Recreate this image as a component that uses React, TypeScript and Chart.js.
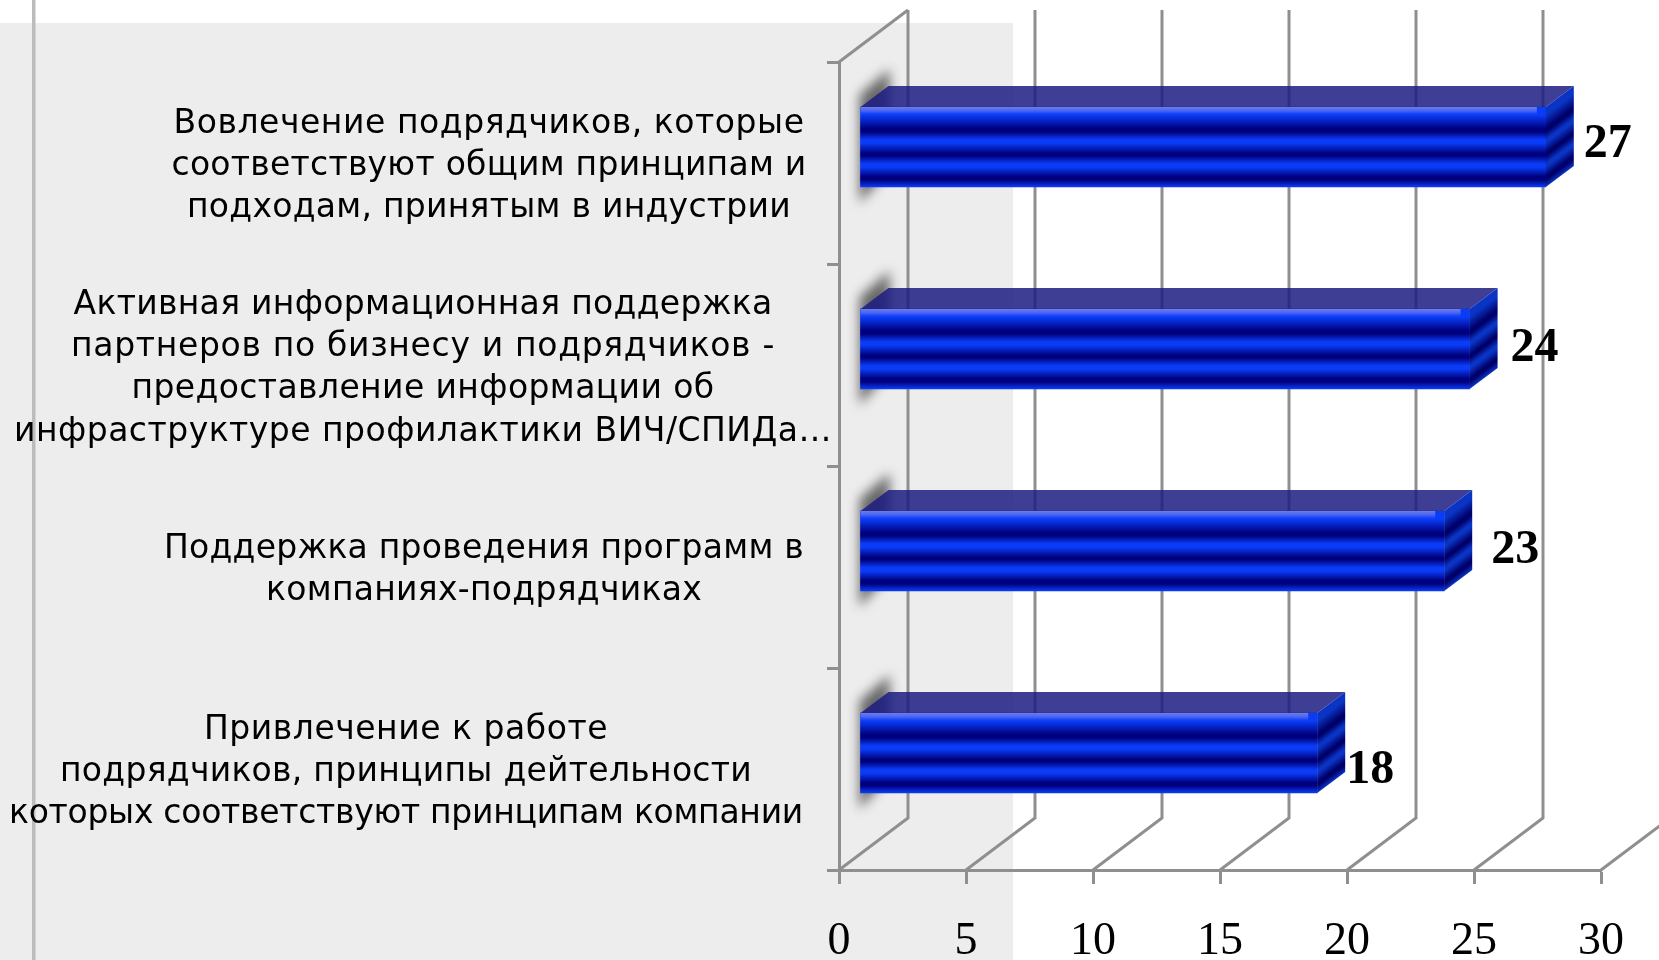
import React, { useEffect, useRef } from "react";
import { Chart, registerables } from "chart.js";

Chart.register(...registerables);

const categories: string[][] = [
  ["Вовлечение подрядчиков, которые", "соответствуют общим принципам и", "подходам, принятым в индустрии"],
  ["Активная информационная поддержка", "партнеров по бизнесу и подрядчиков -", "предоставление информации об", "инфраструктуре профилактики ВИЧ/СПИДа…"],
  ["Поддержка проведения программ в", "компаниях-подрядчиках"],
  ["Привлечение к работе", "подрядчиков, принципы дейтельности", "которых соответствуют принципам компании"],
];
const values = [27, 24, 23, 18];
const xTicks = [0, 5, 10, 15, 20, 25, 30];

const labelCenters = [489, 423, 484, 406];
const lineWidths = [
  [631, 635, 604],
  [699, 704, 583, 818],
  [640, 436],
  [404, 692, 794],
];
const valueLabelDx = [38, 41, 47, 29];
const valueLabelDy = [-2, 0, 0, 18];

const WALL_DX = 69, WALL_DY = -52;
const BAR_DX = 21, BAR_DY = -16;
const TOP_DX = 28, TOP_DY = -21;
const BAR_H = 80;
const GRID = "#8f8f8f";

const stripes = (ctx: CanvasRenderingContext2D, top: number, h: number, bright: string, dark: string) => {
  const g = ctx.createLinearGradient(0, top, 0, top + h);
  const stops: [number, string][] = [
    [0, bright], [0.1, bright], [0.27, dark], [0.31, dark], [0.41, bright], [0.45, bright],
    [0.58, dark], [0.61, dark], [0.71, bright], [0.75, bright], [0.87, dark], [0.91, dark], [1, bright],
  ];
  stops.forEach(([p, c]) => g.addColorStop(p, c));
  return g;
};

const scene = {
  id: "scene",
  beforeDraw(chart: any) {
    const ctx: CanvasRenderingContext2D = chart.ctx;
    ctx.save();
    ctx.fillStyle = "#ffffff";
    ctx.fillRect(0, 0, chart.width, chart.height);
    ctx.fillStyle = "#ededed";
    ctx.fillRect(0, 23, 1013, chart.height - 23);
    ctx.fillStyle = "#bcbcbc";
    ctx.fillRect(32, 0, 3.5, chart.height);
    ctx.restore();
  },
  beforeDatasetsDraw(chart: any) {
    const ctx: CanvasRenderingContext2D = chart.ctx;
    const { x: xs } = chart.scales;
    const { top, bottom, left } = chart.chartArea;
    ctx.save();
    ctx.strokeStyle = GRID;
    ctx.lineWidth = 3;
    xTicks.forEach((t) => {
      const px = xs.getPixelForValue(t);
      ctx.beginPath();
      ctx.moveTo(px, bottom);
      ctx.lineTo(px + WALL_DX, bottom + WALL_DY);
      ctx.lineTo(px + WALL_DX, top + WALL_DY);
      ctx.stroke();
    });
    ctx.beginPath();
    ctx.moveTo(left, top);
    ctx.lineTo(left + WALL_DX, top + WALL_DY);
    ctx.stroke();

    const meta = chart.getDatasetMeta(0);
    meta.data.forEach((bar: any) => {
      const t = bar.y - bar.height / 2 + BAR_DY;
      const b = t + bar.height;
      const x0 = bar.base + BAR_DX;
      ctx.save();
      (ctx as any).filter = "blur(6px)";
      ctx.fillStyle = "#666666";
      ctx.beginPath();
      ctx.moveTo(x0 - 1, t - 12);
      ctx.lineTo(x0 + 29, t - 38);
      ctx.lineTo(x0 + 29, b - 18);
      ctx.lineTo(x0 - 1, b + 16);
      ctx.closePath();
      ctx.fill();
      ctx.restore();
    });
    ctx.restore();
    ctx.save();
    ctx.translate(BAR_DX, BAR_DY);
  },
  afterDatasetsDraw(chart: any) {
    const ctx: CanvasRenderingContext2D = chart.ctx;
    ctx.restore();
    const meta = chart.getDatasetMeta(0);
    ctx.save();
    meta.data.forEach((bar: any, i: number) => {
      const t = bar.y - bar.height / 2 + BAR_DY;
      const h = bar.height;
      const x0 = bar.base + BAR_DX;
      const x1 = bar.x + BAR_DX;

      ctx.fillStyle = "rgba(28,28,130,0.85)";
      ctx.beginPath();
      ctx.moveTo(x0, t);
      ctx.lineTo(x0 + TOP_DX, t + TOP_DY);
      ctx.lineTo(x1 + TOP_DX, t + TOP_DY);
      ctx.lineTo(x1, t);
      ctx.closePath();
      ctx.fill();

      const hi = ctx.createLinearGradient(0, t, 0, t + 8);
      hi.addColorStop(0, "rgba(110,125,235,1)");
      hi.addColorStop(0.5, "rgba(90,110,240,0.8)");
      hi.addColorStop(1, "rgba(60,90,250,0)");
      ctx.fillStyle = hi;
      ctx.fillRect(x0, t, x1 - x0 - 9, 8);

      ctx.save();
      ctx.transform(1, TOP_DY / TOP_DX, 0, 1, x1, t);
      ctx.fillStyle = stripes(ctx, 0, h, "#0a34c4", "#00006a");
      ctx.fillRect(0, 0, TOP_DX, h);
      ctx.restore();

      ctx.fillStyle = "#000000";
      ctx.font = "bold 48px 'Liberation Serif'";
      ctx.textAlign = "left";
      ctx.textBaseline = "middle";
      ctx.fillText(String(values[i]), x1 + valueLabelDx[i], t + h / 2 + valueLabelDy[i]);
    });
    ctx.restore();
  },
  afterDraw(chart: any) {
    const ctx: CanvasRenderingContext2D = chart.ctx;
    const y = chart.scales.y;
    ctx.save();
    ctx.fillStyle = "#000000";
    ctx.font = "33px 'DejaVu Sans'";
    ctx.textAlign = "center";
    ctx.textBaseline = "middle";
    categories.forEach((lines, i) => {
      const cy = y.getPixelForTick(i) + 3.5;
      const lh = 42.3;
      lines.forEach((ln, k) => {
        (ctx as any).letterSpacing = "0px";
        const base = ctx.measureText(ln).width;
        (ctx as any).letterSpacing = `${(lineWidths[i][k] - base) / ln.length}px`;
        ctx.fillText(ln, labelCenters[i], cy + (k - (lines.length - 1) / 2) * lh);
      });
    });
    (ctx as any).letterSpacing = "0px";
    ctx.restore();
  },
};

export default function App() {
  const ref = useRef<HTMLCanvasElement>(null);
  useEffect(() => {
    const canvas = ref.current!;
    const ctx2d = canvas.getContext("2d")!;
    const chart = new Chart(canvas, {
      type: "bar",
      data: {
        labels: categories.map((c) => c.join(" ")),
        datasets: [
          {
            data: values,
            barThickness: BAR_H,
            backgroundColor: (c: any) => {
              const yScale = c.chart.scales.y;
              const center = yScale ? yScale.getPixelForValue(c.dataIndex) : NaN;
              if (!Number.isFinite(center)) return "#0a3cf8";
              return stripes(ctx2d, center - BAR_H / 2, BAR_H, "#0a3cf8", "#00007e");
            },
          },
        ],
      },
      options: {
        indexAxis: "y",
        responsive: false,
        devicePixelRatio: 1,
        animation: false,
        layout: { padding: { top: 62, right: 58, left: 0, bottom: 0 } },
        plugins: { legend: { display: false }, tooltip: { enabled: false } },
        scales: {
          x: {
            min: 0,
            max: 30,
            afterBuildTicks: (s: any) => { s.ticks = xTicks.map((v) => ({ value: v })); },
            afterFit: (s: any) => { s.height = 90; },
            border: { color: GRID, width: 3 },
            grid: { drawOnChartArea: false, tickLength: 14, tickColor: GRID, tickWidth: 3 },
            ticks: {
              autoSkip: false,
              maxRotation: 0,
              padding: 30,
              color: "#000000",
              font: { family: "'Liberation Serif'", size: 46 },
            },
          },
          y: {
            afterFit: (s: any) => { s.width = 839; },
            border: { color: GRID, width: 3 },
            grid: { drawOnChartArea: false, tickLength: 12, tickColor: GRID, tickWidth: 3 },
            ticks: { display: false },
          },
        },
      },
      plugins: [scene],
    } as any);
    return () => chart.destroy();
  }, []);
  return (
    <div style={{ position: "fixed", left: 0, top: 0, width: 1659, height: 960 }}>
      <canvas ref={ref} width={1659} height={960} style={{ display: "block" }} />
    </div>
  );
}
